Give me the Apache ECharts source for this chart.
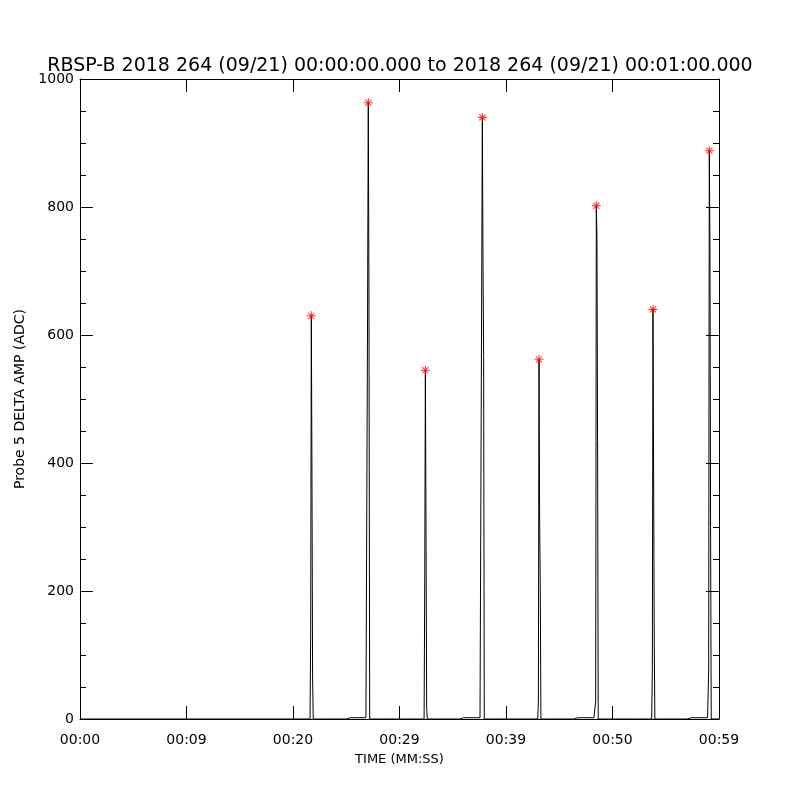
<!DOCTYPE html>
<html>
<head>
<meta charset="utf-8">
<script src="https://cdn.jsdelivr.net/npm/echarts@6/dist/echarts.min.js"></script>
<style>html,body{margin:0;padding:0;background:#fff;}#c{width:800px;height:800px;}</style>
</head>
<body>
<div id="c"></div>
<script>
// ---- data (time in seconds after 00:00:00, amplitude in ADC) ----
var titleText = 'RBSP-B 2018 264 (09/21) 00:00:00.000 to 2018 264 (09/21) 00:01:00.000';
var xAxisName = 'TIME (MM:SS)';
var yAxisName = 'Probe 5 DELTA AMP (ADC)';
var xTickLabels = ['00:00', '00:09', '00:20', '00:29', '00:39', '00:50', '00:59'];

var timeSec = [
  0.00, 21.60, 21.66, 21.72, 21.78, 21.84, 21.90,
  22.69, 22.72, 22.75,
  25.02, 25.04, 25.40, 25.45, 25.50, 26.85, 26.87,
  26.95, 27.00, 27.07, 27.13, 27.20,
  27.95, 27.98, 28.03, 28.06,
  30.67, 30.70, 30.73,
  32.31, 32.37, 32.43, 32.49, 32.55, 32.61,
  33.49, 33.52, 33.55,
  35.66, 35.68, 36.02, 36.06, 36.10, 37.56, 37.58,
  37.66, 37.78, 37.84, 37.90, 37.96,
  38.75, 38.78, 38.81,
  42.98, 43.04, 43.10, 43.16, 43.22, 43.28,
  44.17, 44.20, 44.23,
  46.36, 46.38, 46.72, 46.76, 46.80, 48.26, 48.28,
  48.36, 48.42, 48.48, 48.54, 48.60, 48.66,
  49.45, 49.48, 49.51,
  52.18, 52.21, 52.24,
  53.68, 53.74, 53.80, 53.86, 53.92, 53.98,
  54.81, 54.84, 54.87,
  56.98, 57.00, 57.42, 57.46, 57.50, 58.93, 58.95,
  58.97, 59.03, 59.09, 59.15, 59.21, 59.27,
  60.00
];
var ampADC = [
  0, 0, 134, 630, 380, 64, 0,
  0, 2, 0,
  0, 2, 2, 4, 2, 2, 0,
  0, 628, 963, 679, 0,
  0, 3, 3, 0,
  0, 3, 0,
  0, 214, 545, 291, 19, 0,
  0, 2, 0,
  0, 2, 2, 4, 2, 2, 0,
  0, 940, 714, 568, 0,
  0, 2, 0,
  0, 28, 562, 309, 200, 0,
  0, 2, 0,
  0, 2, 2, 4, 2, 2, 0,
  0, 28, 802, 753, 435, 0,
  0, 2, 0,
  0, 2, 0,
  0, 75, 640, 394, 122, 0,
  0, 2, 0,
  0, 2, 2, 4, 2, 2, 0,
  0, 75, 888, 740, 299, 0,
  0
];
var peakTimes = [21.72, 27.07, 32.43, 37.78, 43.10, 48.48, 53.80, 59.09];
var peakValues = [630, 963, 545, 940, 562, 802, 640, 888];

// ---- build ----
var lineData = timeSec.map(function (t, i) { return [t, ampADC[i]]; });
var peakData = peakTimes.map(function (t, i) { return [t, peakValues[i]]; });

var FONT = 'DejaVu Sans';
var asterisk = 'path://M0,4.4H10V5.6H0Z M4.4,0H5.6V10H4.4Z M1.2,2L2,1.2L8.8,8L8,8.8Z M8,1.2L8.8,2L2,8.8L1.2,8Z';
var axisLineStyle = {show: true, onZero: false, lineStyle: {color: '#000', width: 1}};
var majorTick = {show: true, inside: true, length: 13, lineStyle: {color: '#000', width: 1}};
var minorTick = {show: true, splitNumber: 4, length: 6, lineStyle: {color: '#000', width: 1}};

var chart = echarts.init(document.getElementById('c'), null, {renderer: 'canvas'});
chart.setOption({
  animation: false,
  backgroundColor: '#ffffff',
  title: {
    text: titleText,
    left: 'center',
    top: 52,
    textStyle: {fontFamily: FONT, fontSize: 19, fontWeight: 'normal', color: '#000'}
  },
  grid: {left: 80, right: 81, top: 79, bottom: 81, containLabel: false},
  xAxis: [{
    type: 'value', min: 0, max: 60, interval: 10, position: 'bottom',
    name: xAxisName, nameLocation: 'middle', nameGap: 34,
    nameTextStyle: {fontFamily: FONT, fontSize: 13, color: '#000'},
    axisLine: axisLineStyle,
    axisTick: majorTick,
    axisLabel: {fontFamily: FONT, fontSize: 14, color: '#000', margin: 14,
      formatter: function (v) { return xTickLabels[Math.round(v / 10)]; }},
    splitLine: {show: false}
  }, {
    type: 'value', min: 0, max: 60, interval: 10, position: 'top',
    axisLine: axisLineStyle,
    axisTick: majorTick,
    axisLabel: {show: false},
    splitLine: {show: false}
  }],
  yAxis: [{
    type: 'value', min: 0, max: 1000, interval: 200, position: 'left',
    name: yAxisName, nameLocation: 'middle', nameGap: 48, nameRotate: 90,
    nameTextStyle: {fontFamily: FONT, fontSize: 14, color: '#000'},
    axisLine: axisLineStyle,
    axisTick: majorTick,
    minorTick: minorTick,
    axisLabel: {fontFamily: FONT, fontSize: 14, color: '#000', margin: 6,
      formatter: function (v) { return String(v); }},
    splitLine: {show: false}
  }, {
    type: 'value', min: 0, max: 1000, interval: 200, position: 'right',
    axisLine: axisLineStyle,
    axisTick: majorTick,
    minorTick: minorTick,
    axisLabel: {show: false},
    splitLine: {show: false}
  }],
  series: [{
    type: 'line', xAxisIndex: 0, yAxisIndex: 0,
    data: lineData, showSymbol: false, symbol: 'none',
    lineStyle: {color: '#000', width: 1}, z: 2
  }, {
    type: 'scatter', xAxisIndex: 0, yAxisIndex: 0,
    data: peakData, symbol: asterisk, symbolSize: 9,
    itemStyle: {color: '#ff0000'}, z: 3
  }]
});
</script>
</body>
</html>
